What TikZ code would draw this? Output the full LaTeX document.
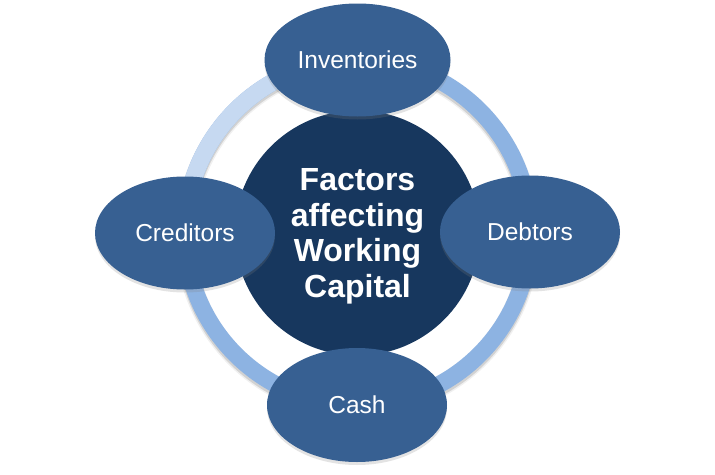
\documentclass[tikz,border=0pt]{standalone}
\usepackage{fontspec}
\setmainfont{Liberation Sans}
\usetikzlibrary{shapes.geometric,shadows}
\definecolor{ringblue}{HTML}{8DB3E2}
\definecolor{ringlight}{HTML}{C6D9F1}
\definecolor{ellblue}{HTML}{376092}
\definecolor{coreblue}{HTML}{17375E}
\begin{document}
\begin{tikzpicture}[x=1pt,y=-1pt,
  factor/.style={ellipse, fill=ellblue, text=white, minimum width=180pt,
    minimum height=113pt, inner sep=0pt,
    font=\fontsize{24.5}{28}\selectfont,
    drop shadow={shadow xshift=0pt, shadow yshift=-3pt, opacity=0.22}},
  core/.style={circle, fill=coreblue, text=white, minimum size=245pt,
    inner sep=0pt, align=center, text depth=0pt,
    font=\bfseries\fontsize{32}{35.7}\selectfont},
  ringband/.style={line width=17pt}
]
\useasboundingbox (0,0) rectangle (715,474);
\fill[white] (0,0) rectangle (715,474);
\coordinate (c) at (357.5,232.5);
\coordinate (cs) at (357.5,235.5);
% ring shadow
\draw[ringband, line width=20pt, black, opacity=0.06] (cs) circle[radius=172.5];
\draw[ringband, black, opacity=0.12] (cs) circle[radius=172.5];
% ring
\draw[ringband, ringblue] (c) circle[radius=172.5];
\draw[ringband, ringlight] (c) ++(-172.5,0) arc[start angle=180, end angle=270, radius=172.5];
% core
\node[core] (core) at (357.5,233) {Factors\\affecting\\Working\\Capital};
% factors
\node[factor, minimum width=186pt] (inv) at (357.5,60) {Inventories};
\node[factor] (cred) at (185,233) {Creditors};
\node[factor] (debt) at (530,232) {Debtors};
\node[factor, minimum height=114pt] (cash) at (357,405) {Cash};
\end{tikzpicture}
\end{document}
